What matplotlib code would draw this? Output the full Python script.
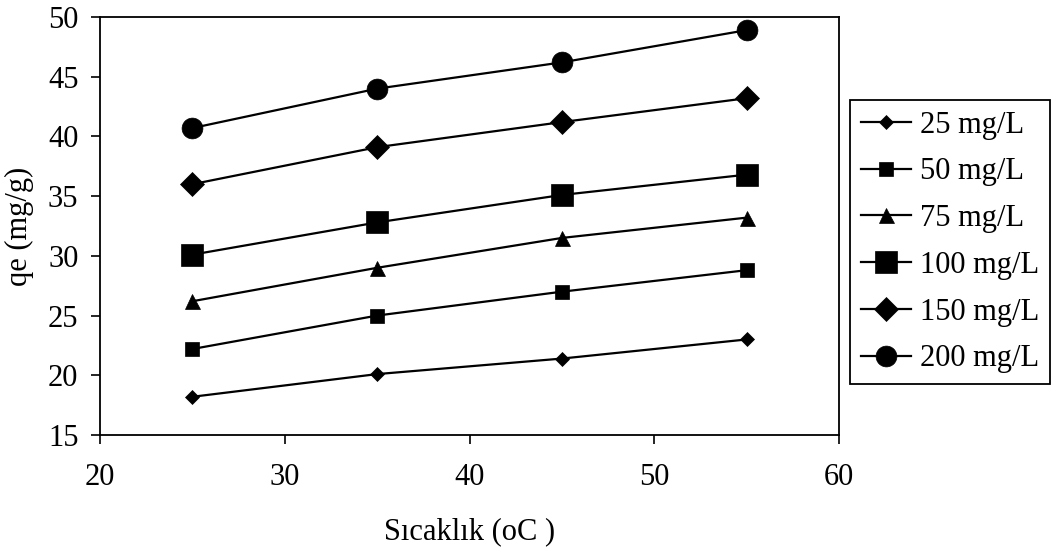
import matplotlib
matplotlib.use("Agg")
import matplotlib.pyplot as plt

temps = [25, 35, 45, 55]
labels = ["25 mg/L", "50 mg/L", "75 mg/L", "100 mg/L", "150 mg/L", "200 mg/L"]
q25 = [18.2, 20.1, 21.4, 23.0]
q50 = [22.2, 25.0, 27.0, 28.8]
q75 = [26.2, 29.0, 31.5, 33.2]
q100 = [30.1, 32.8, 35.1, 36.8]
q150 = [36.0, 39.1, 41.2, 43.2]
q200 = [40.7, 44.0, 46.2, 48.9]
series = [q25, q50, q75, q100, q150, q200]
xticks = [20, 30, 40, 50, 60]
yticks = [15, 20, 25, 30, 35, 40, 45, 50]

markers = ["D", "s", "^", "s", "D", "o"]
msizes = [7.2, 10.2, 10.8, 16.2, 12.3, 15.0]

plt.rcParams['font.family'] = ['Liberation Serif', 'DejaVu Serif']
fs = 22

fig = plt.figure(figsize=(10.53, 5.52), dpi=100)
ax = fig.add_axes([100/1053, 1-435/552, 739/1053, 418/552])

for ys, lab, m, ms in zip(series, labels, markers, msizes):
    ax.plot(temps, ys, color='black', linewidth=1.6, marker=m, markersize=ms,
            markerfacecolor='black', markeredgecolor='black', markeredgewidth=0.5,
            label=lab)

ax.set_xlim(20, 60)
ax.set_ylim(15, 50)
ax.set_xticks(xticks)
ax.set_yticks(yticks)
ax.tick_params(direction='out', length=6.5, width=1.2, labelsize=fs, color='black')
ax.tick_params(axis='x', pad=14)
ax.tick_params(axis='y', pad=9)
for s in ax.spines.values():
    s.set_linewidth(1.3)
    s.set_color('black')

ax.set_xlabel("Sıcaklık (oC )", fontsize=fs, labelpad=18)
ax.set_ylabel("qe (mg/g)", fontsize=fs, labelpad=10)

leg = ax.legend(loc='upper left', bbox_to_anchor=(850/1053, 1-100/552),
                bbox_transform=fig.transFigure, borderaxespad=0,
                fontsize=fs, frameon=True, fancybox=False, framealpha=1,
                edgecolor='black', handlelength=1.65, handletextpad=0.3,
                labelspacing=0.58, borderpad=0.35)
leg.get_frame().set_linewidth(1.3)

fig.savefig("out.png", dpi=100)
